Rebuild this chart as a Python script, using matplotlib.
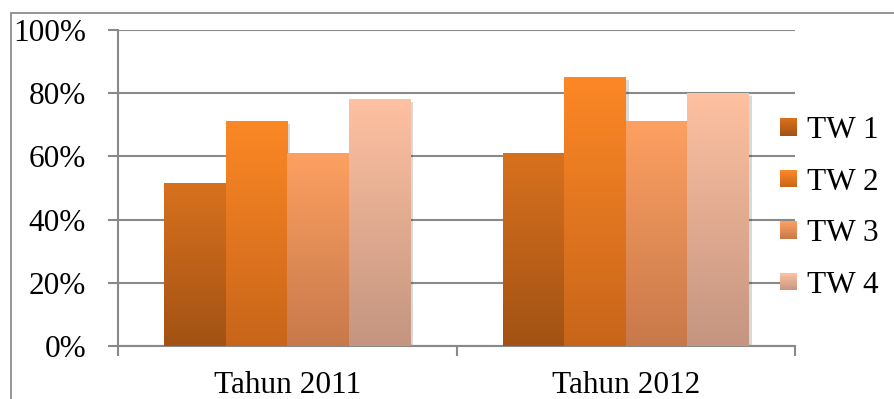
import numpy as np
import matplotlib
matplotlib.use("Agg")
import matplotlib.pyplot as plt
from matplotlib.colors import LinearSegmentedColormap, to_rgb
from matplotlib.legend_handler import HandlerBase
from matplotlib.patches import Rectangle
import matplotlib.patheffects as pe

categories = ["Tahun 2011", "Tahun 2012"]
series = ["TW 1", "TW 2", "TW 3", "TW 4"]
values = {
    "TW 1": [51.5, 61],
    "TW 2": [71, 85],
    "TW 3": [61, 71],
    "TW 4": [78, 80],
}
yticks = [0, 20, 40, 60, 80, 100]
ytick_labels = ["0%", "20%", "40%", "60%", "80%", "100%"]

# gradient colours (top, bottom)
grad = {
    "TW 1": ("#D8711E", "#A25214"),
    "TW 2": ("#FC8825", "#C8651A"),
    "TW 3": ("#FDA062", "#C8794A"),
    "TW 4": ("#FEC1A1", "#C49580"),
}

plt.rcParams['font.family'] = ['Liberation Serif', 'DejaVu Serif']
FS = 22.5

fig = plt.figure(figsize=(8.94, 3.99), dpi=100)
ax = fig.add_axes([118/894, 1-346/399, (795-118)/894, (346-30)/399])

# chart border
fig.patches.append(Rectangle((11/894, -0.1), 1.2, 1-13/399+0.1, transform=fig.transFigure,
                             fill=False, edgecolor="#8c8c8c", lw=1.3))

x = np.arange(len(categories))
w = 0.182
grid_c = "#898989"
ax.set_axisbelow(True)
ax.yaxis.grid(True, color=grid_c, lw=1.5)

for i, s in enumerate(series):
    bars = ax.bar(x + (i - 1.5) * w, values[s], w, color=grad[s][0], zorder=2)
    top, bot = np.array(to_rgb(grad[s][0])), np.array(to_rgb(grad[s][1]))
    cmap = LinearSegmentedColormap.from_list(s, [bot, top])
    for b in bars:
        b.set_path_effects([pe.SimplePatchShadow(offset=(2, -2), shadow_rgbFace="#000000", alpha=0.15), pe.Normal()])
        x0, y0 = b.get_x(), b.get_y()
        x1, y1 = x0 + b.get_width(), y0 + b.get_height()
        g = np.linspace(0, 1, 256).reshape(-1, 1)
        ax.imshow(g, cmap=cmap, origin="lower", extent=[x0, x1, y0, y1],
                  aspect="auto", zorder=3, interpolation="bilinear")

ax.set_xlim(-0.5, 1.5)
ax.set_ylim(0, 100)
ax.set_yticks(yticks)
ax.set_yticklabels(ytick_labels, fontsize=FS)
ax.set_xticks(x)
ax.set_xticklabels(categories, fontsize=FS)
ax.set_xticks([-0.5, 0.5, 1.5], minor=True)
ax.tick_params(axis="x", which="major", length=0, pad=18)
ax.tick_params(axis="x", which="minor", length=7, color=grid_c, width=1.5, direction="out")
ax.tick_params(axis="y", length=7, color=grid_c, width=1.5, pad=16)
for sp in ["top", "right"]:
    ax.spines[sp].set_visible(False)
for sp in ["left", "bottom"]:
    ax.spines[sp].set_color(grid_c)
    ax.spines[sp].set_linewidth(1.5)


class GradHandler(HandlerBase):
    def __init__(self, top, bot):
        super().__init__()
        self.top = np.array(to_rgb(top))
        self.bot = np.array(to_rgb(bot))

    def create_artists(self, legend, orig_handle, xdescent, ydescent, width, height, fontsize, trans):
        n = 12
        side = min(width, height)
        x0 = -xdescent + (width - side) / 2
        y0 = -ydescent + (height - side) / 2
        arts = []
        for k in range(n):
            t = (k + 0.5) / n
            c = self.bot * (1 - t) + self.top * t
            r = Rectangle((x0, y0 + side * k / n), side, side / n + 0.3, facecolor=c,
                          edgecolor="none", transform=trans)
            arts.append(r)
        return arts


handles = [Rectangle((0, 0), 1, 1) for _ in series]
hmap = {h: GradHandler(*grad[s]) for h, s in zip(handles, series)}
leg = fig.legend(handles, series, handler_map=hmap, loc="center left",
                 bbox_to_anchor=(780/894, 1-208/399), frameon=False, fontsize=FS,
                 handlelength=0.55, handleheight=0.55, handletextpad=0.3, labelspacing=0.72,
                 borderpad=0, borderaxespad=0)

fig.savefig("out.png", dpi=100)
